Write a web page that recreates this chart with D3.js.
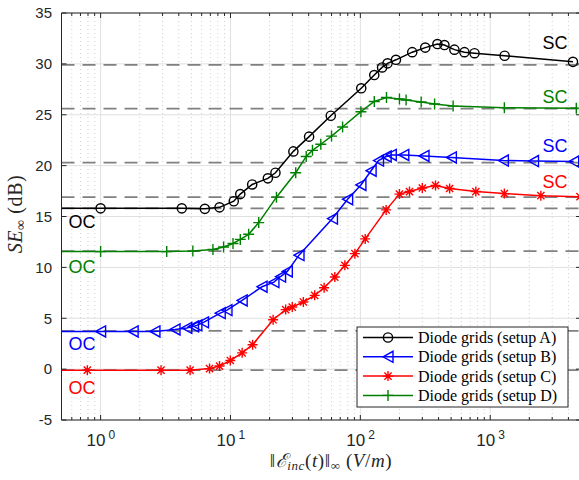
<!DOCTYPE html>
<html>
<head>
<meta charset="utf-8">
<script src="https://d3js.org/d3.v7.min.js"></script>
<style>
    body { margin: 0; background: #fff; }
    .tick-label { font: 15px "Liberation Sans", Arial, sans-serif; fill: #262626; }
    .state-label { font: 18px "Liberation Sans", Arial, sans-serif; }
    .legend text { font: 16px "Liberation Serif", serif; fill: #000; }
</style>
</head>
<body>
<div id="chart"></div>
<script>
// values
var xDomain = [0.5, 5000];
var yDomain = [-5, 35];
var yTicks = [-5, 0, 5, 10, 15, 20, 25, 30, 35];
var xTicks = [1, 10, 100, 1000];
var xTickExp = ["0", "1", "2", "3"];

// setup A (black, circles)
var setupA_x = [0.3, 1.0, 4.22, 6.35, 8.24, 10.6, 11.9, 14.7, 19.4, 22.2, 30.5, 40.3, 59.2, 101.6, 128, 147, 162, 188, 251, 316, 392, 444, 530, 633, 757, 1291, 4335];
var setupA_y = [15.8, 15.8, 15.8, 15.75, 15.9, 16.5, 17.2, 18.15, 18.75, 19.3, 21.4, 22.85, 24.9, 27.6, 28.9, 29.65, 30.05, 30.4, 31.15, 31.6, 31.95, 31.85, 31.4, 31.15, 31.05, 30.8, 30.2];
// setup B (blue, left triangles)
var setupB_x = [0.3, 1.0, 1.78, 2.62, 3.74, 4.61, 5.19, 5.51, 6.2, 8.34, 9.4, 12.3, 17.5, 21.6, 24.3, 27.4, 33.7, 61, 79.8, 101, 121, 138, 158, 173, 216, 309, 502, 1262, 2153, 4395];
var setupB_y = [3.7, 3.7, 3.7, 3.7, 3.9, 4.05, 4.2, 4.3, 4.6, 5.5, 5.8, 6.75, 8.1, 8.55, 9.1, 9.6, 11.2, 14.8, 16.7, 18.1, 19.5, 20.5, 20.9, 21.05, 21.05, 20.95, 20.8, 20.5, 20.45, 20.4];
// setup C (red, asterisks)
var setupC_x = [0.3, 0.79, 2.92, 4.89, 6.9, 8.24, 9.97, 12.3, 14.8, 21.3, 26.6, 29.9, 36.4, 44.5, 52.6, 63.6, 76, 90.8, 109, 158, 200, 239, 300, 379, 487, 775, 1285, 2454, 4911];
var setupC_y = [-0.1, -0.1, -0.1, -0.1, 0.05, 0.3, 0.85, 1.6, 2.4, 4.85, 5.85, 6.1, 6.6, 7.25, 8.0, 9.05, 10.2, 11.35, 12.8, 15.65, 17.2, 17.45, 17.8, 18.05, 17.75, 17.45, 17.25, 17.05, 16.95];
// setup D (green, plus)
var setupD_x = [0.3, 1.0, 3.23, 5.13, 7.33, 8.85, 10.46, 11.9, 13.8, 16.5, 22.6, 31.8, 38.3, 42.8, 49.6, 60, 73, 101, 128, 159, 200, 225, 294, 373, 518, 1285, 4600];
var setupD_y = [11.55, 11.55, 11.55, 11.6, 11.75, 12.0, 12.35, 12.75, 13.25, 14.4, 16.9, 19.3, 20.9, 21.5, 22.1, 22.9, 23.8, 25.3, 26.3, 26.7, 26.55, 26.45, 26.25, 26.05, 25.85, 25.7, 25.65];

// open / short circuit asymptotes (dashed)
var asymptotes = [29.9, 25.6, 20.3, 16.9, 15.8, 11.6, 3.75, -0.1];

var seriesNames = ["Diode grids (setup A)", "Diode grids (setup B)", "Diode grids (setup C)", "Diode grids (setup D)"];
var seriesColors = ["#000000", "#0000ff", "#ff0000", "#008000"];
var seriesMarkers = ["circle", "triangle", "star", "plus"];

// SC / OC label positions, top to bottom: A, D, B, C
var labelColors = ["#000000", "#008000", "#0000ff", "#ff0000"];
var scLabels = [32.05, 26.8, 22.0, 18.4];
var ocLabels = [14.5, 10.05, 2.5, -1.8];

var width = 579, height = 480;
var x = d3.scaleLog().domain(xDomain).range([61.5, 581]);
var y = d3.scaleLinear().domain(yDomain).range([420, 13]);

var svg = d3.select("#chart").append("svg")
    .attr("width", width)
    .attr("height", height);

svg.append("defs").append("clipPath").attr("id", "plotclip")
    .append("rect")
    .attr("x", x.range()[0]).attr("y", y.range()[1])
    .attr("width", x.range()[1] - x.range()[0])
    .attr("height", y.range()[0] - y.range()[1]);

// minor ticks on log axis
var minorTicks = [];
[0.1, 1, 10, 100, 1000].forEach(function (d) {
    for (var k = 2; k <= 9; k++) {
        var v = d * k;
        if (v > xDomain[0] && v < xDomain[1]) minorTicks.push(v);
    }
});

var grid = svg.append("g");
grid.selectAll(".minor").data(minorTicks).enter().append("line")
    .attr("x1", function (d) { return x(d); }).attr("x2", function (d) { return x(d); })
    .attr("y1", y.range()[1]).attr("y2", y.range()[0])
    .attr("stroke", "#c4c4c4").attr("stroke-width", 0.8)
    .attr("stroke-dasharray", "1,3");
grid.selectAll(".majx").data(xTicks).enter().append("line")
    .attr("x1", function (d) { return x(d); }).attr("x2", function (d) { return x(d); })
    .attr("y1", y.range()[1]).attr("y2", y.range()[0])
    .attr("stroke", "#e0e0e0").attr("stroke-width", 1);
grid.selectAll(".majy").data(yTicks).enter().append("line")
    .attr("x1", x.range()[0]).attr("x2", x.range()[1])
    .attr("y1", function (d) { return y(d); }).attr("y2", function (d) { return y(d); })
    .attr("stroke", "#e0e0e0").attr("stroke-width", 1);

// dashed asymptotes
svg.append("g").attr("clip-path", "url(#plotclip)")
    .selectAll("line").data(asymptotes).enter().append("line")
    .attr("x1", x.range()[0]).attr("x2", x.range()[1])
    .attr("y1", function (d) { return y(d); }).attr("y2", function (d) { return y(d); })
    .attr("stroke", "#808080").attr("stroke-width", 1.7)
    .attr("stroke-dasharray", "13,8");

// marker shapes
function marker(sel, type, color) {
    if (type == "circle") {
        sel.append("circle").attr("r", 4.6)
            .attr("fill", "none").attr("stroke", color).attr("stroke-width", 1.4);
    } else if (type == "triangle") {
        sel.append("path").attr("d", "M-5,0L5,-5.5L5,5.5Z")
            .attr("fill", "none").attr("stroke", color).attr("stroke-width", 1.4);
    } else if (type == "star") {
        sel.append("path").attr("d", "M0,-5V5M-5,0H5M-3.6,-3.6L3.6,3.6M-3.6,3.6L3.6,-3.6")
            .attr("fill", "none").attr("stroke", color).attr("stroke-width", 1.4);
    } else {
        sel.append("path").attr("d", "M0,-5.5V5.5M-5.5,0H5.5")
            .attr("fill", "none").attr("stroke", color).attr("stroke-width", 1.4);
    }
}

var seriesX = [setupA_x, setupB_x, setupC_x, setupD_x];
var seriesY = [setupA_y, setupB_y, setupC_y, setupD_y];
var line = d3.line().x(function (d) { return x(d[0]); }).y(function (d) { return y(d[1]); });

var plot = svg.append("g").attr("clip-path", "url(#plotclip)");
// draw D, C, B, A so black is on top
[3, 2, 1, 0].forEach(function (i) {
    var pts = d3.zip(seriesX[i], seriesY[i]);
    plot.append("path").datum(pts)
        .attr("d", line)
        .attr("fill", "none")
        .attr("stroke", seriesColors[i])
        .attr("stroke-width", 1.5);
    plot.append("g").selectAll("g").data(pts).enter().append("g")
        .attr("transform", function (d) { return "translate(" + x(d[0]) + "," + y(d[1]) + ")"; })
        .each(function () { marker(d3.select(this), seriesMarkers[i], seriesColors[i]); });
});

// axes box
var axisColor = "#262626";
var ax = svg.append("g").attr("stroke", axisColor).attr("stroke-width", 1).attr("fill", "none");
ax.append("line").attr("x1", x.range()[0]).attr("x2", x.range()[0]).attr("y1", y.range()[1]).attr("y2", y.range()[0]);
ax.append("line").attr("x1", x.range()[1]).attr("x2", x.range()[1]).attr("y1", y.range()[1]).attr("y2", y.range()[0]);
ax.append("line").attr("x1", x.range()[0]).attr("x2", x.range()[1]).attr("y1", y.range()[0]).attr("y2", y.range()[0]);
ax.append("line").attr("x1", x.range()[0]).attr("x2", x.range()[1]).attr("y1", y.range()[1]).attr("y2", y.range()[1]);

// x ticks (top and bottom)
[[xTicks, 5], [minorTicks, 3]].forEach(function (t) {
    t[0].forEach(function (d) {
        ax.append("line").attr("x1", x(d)).attr("x2", x(d)).attr("y1", y.range()[0]).attr("y2", y.range()[0] - t[1]);
        ax.append("line").attr("x1", x(d)).attr("x2", x(d)).attr("y1", y.range()[1]).attr("y2", y.range()[1] + t[1]);
    });
});
// y ticks (left and right)
yTicks.forEach(function (d) {
    ax.append("line").attr("x1", x.range()[0]).attr("x2", x.range()[0] + 5).attr("y1", y(d)).attr("y2", y(d));
    ax.append("line").attr("x1", x.range()[1]).attr("x2", x.range()[1] - 5).attr("y1", y(d)).attr("y2", y(d));
});

// tick labels
svg.append("g").selectAll("text").data(yTicks).enter().append("text")
    .attr("class", "tick-label")
    .attr("x", 52).attr("y", function (d) { return y(d); })
    .attr("dy", "0.35em")
    .attr("text-anchor", "end")
    .text(function (d) { return d; });

var xl = svg.append("g").selectAll("text").data(xTicks).enter().append("text")
    .attr("class", "tick-label")
    .attr("x", function (d) { return x(d) - 14; })
    .attr("y", 446)
    .style("font-size", "17px");
xl.append("tspan").text("10");
xl.append("tspan").attr("dx", 3).attr("dy", -7).style("font-size", "12px")
    .text(function (d, i) { return xTickExp[i]; });

// axis titles
var xt = svg.append("text")
    .attr("x", 331).attr("y", 467)
    .attr("text-anchor", "middle")
    .style("font", "19px 'Liberation Serif', serif")
    .style("letter-spacing", "0.6px")
    .attr("fill", "#262626");
xt.append("tspan").text("‖");
xt.append("tspan").style("font-style", "italic").text("ℰ");
xt.append("tspan").style("font-style", "italic").style("font-size", "13px").attr("dy", 3).text("inc");
xt.append("tspan").attr("dy", -3).text("(");
xt.append("tspan").style("font-style", "italic").text("t");
xt.append("tspan").text(")‖");
xt.append("tspan").style("font-size", "13px").attr("dy", 3).text("∞");
xt.append("tspan").attr("dy", -3).text(" (");
xt.append("tspan").style("font-style", "italic").text("V");
xt.append("tspan").text("/");
xt.append("tspan").style("font-style", "italic").text("m");
xt.append("tspan").text(")");

var yt = svg.append("text")
    .attr("transform", "translate(22,214) rotate(-90)")
    .attr("text-anchor", "middle")
    .style("font", "20px 'Liberation Serif', serif")
    .style("letter-spacing", "0.6px")
    .attr("fill", "#262626");
yt.append("tspan").style("font-style", "italic").text("SE");
yt.append("tspan").style("font-size", "14px").attr("dy", 3).text("∞");
yt.append("tspan").attr("dy", -3).text(" (dB)");

// SC / OC labels
svg.append("g").selectAll("text").data(scLabels).enter().append("text")
    .attr("class", "state-label")
    .attr("x", 555).attr("y", function (d) { return y(d); })
    .attr("dy", "0.35em").attr("text-anchor", "middle")
    .attr("fill", function (d, i) { return labelColors[i]; })
    .text("SC");
svg.append("g").selectAll("text").data(ocLabels).enter().append("text")
    .attr("class", "state-label")
    .attr("x", 82).attr("y", function (d) { return y(d); })
    .attr("dy", "0.35em").attr("text-anchor", "middle")
    .attr("fill", function (d, i) { return labelColors[i]; })
    .text("OC");

// legend
var legend = svg.append("g").attr("class", "legend").attr("transform", "translate(357,327)");
legend.append("rect").attr("width", 211).attr("height", 80)
    .attr("fill", "#fff").attr("stroke", axisColor).attr("stroke-width", 1);
var rows = legend.selectAll(".row").data(seriesNames).enter().append("g")
    .attr("transform", function (d, i) { return "translate(0," + (10.5 + i * 19.3) + ")"; });
rows.append("line").attr("x1", 6).attr("x2", 56)
    .attr("stroke", function (d, i) { return seriesColors[i]; }).attr("stroke-width", 1.5);
rows.each(function (d, i) {
    var m = d3.select(this).append("g").attr("transform", "translate(31,0)");
    marker(m, seriesMarkers[i], seriesColors[i]);
});
rows.append("text").attr("x", 61).attr("dy", "0.35em").text(function (d) { return d; });
</script>
</body>
</html>
